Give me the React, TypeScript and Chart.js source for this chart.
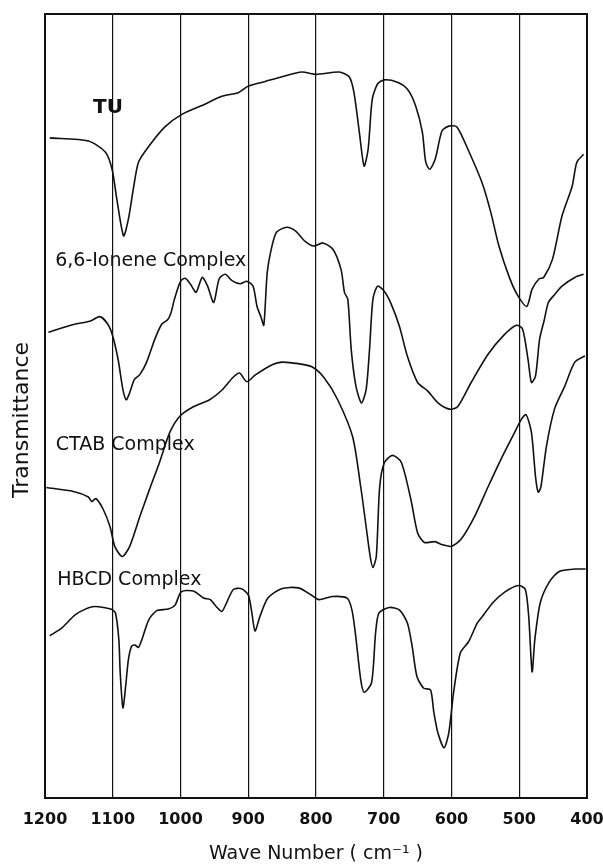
import React, { useEffect, useRef } from "react";
import { Chart, registerables } from "chart.js";

Chart.register(...registerables);

// X axis (wave number, cm-1) tick values
const waveTicks = [1200, 1100, 1000, 900, 800, 700, 600, 500, 400];

// TU spectrum
const tuWave = [1193, 1136, 1111, 1101, 1094, 1084, 1077, 1069, 1062, 1047, 1023, 998, 964, 939, 914, 900, 875, 850, 821, 800, 766, 751, 744, 736, 729, 723, 717, 709, 699, 680, 665, 653, 643, 638, 632, 624, 614, 604, 592, 574, 555, 542, 530, 515, 503, 489, 481, 471, 464, 451, 437, 422, 415, 405];
const tuValues = [84.2, 83.8, 82.4, 80.2, 76.4, 71.7, 73.8, 78.0, 81.1, 83.1, 85.6, 87.2, 88.5, 89.5, 90.0, 90.8, 91.4, 92.0, 92.6, 92.3, 92.6, 92.0, 90.0, 84.9, 80.6, 82.8, 89.1, 91.1, 91.6, 91.3, 90.4, 88.3, 84.9, 81.1, 80.2, 81.5, 85.1, 85.7, 85.6, 82.4, 78.5, 74.7, 70.4, 66.5, 64.2, 62.7, 64.9, 66.2, 66.4, 68.7, 74.2, 78.0, 81.1, 82.1];

// 6,6-Ionene Complex spectrum
const ioneneWave = [1195, 1158, 1134, 1119, 1107, 1100, 1092, 1085, 1080, 1075, 1068, 1060, 1050, 1038, 1028, 1019, 1014, 1009, 1000, 993, 985, 977, 968, 960, 951, 943, 934, 924, 912, 902, 893, 887, 881, 877, 872, 865, 858, 843, 830, 816, 803, 790, 775, 763, 758, 753, 748, 741, 733, 726, 721, 716, 709, 699, 689, 677, 665, 650, 635, 620, 603, 591, 571, 546, 522, 504, 495, 487, 482, 476, 470, 463, 457, 448, 437, 418, 405];
const ioneneValues = [59.4, 60.4, 60.8, 61.4, 60.4, 58.9, 55.9, 52.1, 50.8, 51.7, 53.4, 54.0, 55.6, 58.5, 60.4, 61.0, 61.9, 63.6, 65.9, 66.3, 65.5, 64.5, 66.4, 65.3, 63.2, 66.2, 66.8, 66.0, 65.6, 65.9, 65.3, 62.7, 61.3, 60.3, 67.0, 70.4, 72.2, 72.8, 72.3, 71.0, 70.4, 70.8, 70.0, 67.4, 64.5, 63.6, 57.2, 52.5, 50.4, 52.1, 57.2, 63.6, 65.3, 64.6, 63.0, 60.2, 56.3, 53.0, 51.9, 50.4, 49.6, 49.9, 53.0, 56.6, 59.1, 60.3, 59.8, 55.9, 53.0, 53.8, 58.5, 61.0, 63.2, 64.2, 65.3, 66.4, 66.8];

// CTAB Complex spectrum
const ctabWave = [1198, 1158, 1136, 1131, 1125, 1114, 1104, 1097, 1086, 1075, 1060, 1046, 1031, 1016, 1001, 981, 957, 938, 923, 913, 902, 889, 864, 850, 826, 806, 788, 768, 746, 734, 726, 720, 716, 711, 706, 699, 687, 674, 660, 650, 640, 625, 613, 600, 586, 566, 546, 527, 507, 497, 490, 482, 476, 472, 468, 460, 448, 433, 418, 403];
const ctabValues = [39.6, 39.1, 38.4, 37.8, 38.2, 36.8, 34.6, 32.1, 30.8, 32.1, 35.9, 39.3, 42.8, 46.6, 48.7, 49.9, 50.8, 52.1, 53.6, 54.2, 53.1, 54.0, 55.3, 55.6, 55.4, 55.0, 53.6, 50.8, 46.1, 39.7, 34.6, 30.8, 29.4, 30.8, 39.7, 42.8, 43.7, 42.8, 38.1, 33.8, 32.6, 32.7, 32.3, 32.1, 33.0, 35.9, 39.7, 43.2, 46.6, 48.3, 48.9, 46.6, 41.0, 39.0, 39.7, 44.8, 49.6, 52.5, 55.6, 56.4];

// HBCD Complex spectrum
const hbcdWave = [1193, 1175, 1155, 1130, 1103, 1096, 1091, 1089, 1085, 1081, 1077, 1072, 1067, 1062, 1057, 1047, 1035, 1018, 1008, 999, 981, 966, 956, 947, 939, 932, 922, 910, 900, 895, 890, 883, 871, 851, 826, 807, 796, 776, 754, 747, 742, 734, 729, 718, 712, 707, 692, 677, 665, 658, 651, 641, 631, 626, 620, 611, 604, 597, 587, 575, 562, 555, 538, 521, 501, 491, 486, 481, 477, 469, 456, 441, 417, 402];
const hbcdValues = [20.7, 21.7, 23.4, 24.4, 24.1, 23.6, 20.2, 16.0, 11.5, 14.2, 17.6, 19.4, 19.5, 19.2, 20.2, 22.7, 23.9, 24.1, 24.6, 26.3, 26.4, 25.5, 25.3, 24.4, 23.8, 24.9, 26.6, 26.7, 25.9, 23.8, 21.3, 23.1, 25.5, 26.7, 26.8, 25.9, 25.3, 25.7, 25.5, 24.0, 21.1, 15.1, 13.5, 14.7, 21.1, 23.6, 24.3, 24.0, 22.3, 19.3, 15.5, 14.0, 13.8, 10.9, 8.3, 6.4, 8.3, 13.4, 18.5, 19.9, 22.3, 23.1, 25.0, 26.3, 27.1, 26.6, 23.1, 16.1, 20.2, 24.9, 27.5, 28.9, 29.2, 29.2];

// Curve labels (text, anchor wave number, anchor value)
const labelTexts = ["TU", "6,6-Ionene Complex", "CTAB Complex", "HBCD Complex"];
const labelWaves = [1129, 1185, 1184, 1182];
const labelValues = [87.4, 67.8, 44.4, 27.2];
const labelBold = [true, false, false, false];

const INK = "#111111";

export default function App() {
  const canvasRef = useRef<HTMLCanvasElement | null>(null);

  useEffect(() => {
    const canvas = canvasRef.current;
    if (!canvas) return;

    const toPoints = (w: number[], v: number[]) => w.map((x, i) => ({ x, y: v[i] }));

    const framePlugin = {
      id: "frameAndLabels",
      beforeDraw(chart: any) {
        const ctx = chart.ctx;
        ctx.save();
        ctx.fillStyle = "#ffffff";
        ctx.fillRect(0, 0, chart.width, chart.height);
        ctx.restore();
      },
      afterDatasetsDraw(chart: any) {
        const { ctx, chartArea, scales } = chart;
        ctx.save();
        ctx.strokeStyle = INK;
        ctx.lineWidth = 2;
        ctx.strokeRect(chartArea.left, chartArea.top, chartArea.right - chartArea.left, chartArea.bottom - chartArea.top);
        ctx.fillStyle = INK;
        ctx.textAlign = "left";
        ctx.textBaseline = "alphabetic";
        labelTexts.forEach((t, i) => {
          ctx.font = labelBold[i] ? "bold 20px 'DejaVu Sans'" : "19px 'DejaVu Sans'";
          const x = scales.x.getPixelForValue(labelWaves[i]);
          const y = scales.y.getPixelForValue(labelValues[i]);
          ctx.fillText(t, x, y);
        });
        ctx.restore();
      },
    };

    const mk = (data: { x: number; y: number }[]) => ({
      data,
      borderColor: INK,
      borderWidth: 1.6,
      pointRadius: 0,
      tension: 0.25,
      fill: false,
    });

    const chart = new Chart(canvas, {
      type: "line",
      data: {
        datasets: [
          mk(toPoints(tuWave, tuValues)),
          mk(toPoints(ioneneWave, ioneneValues)),
          mk(toPoints(ctabWave, ctabValues)),
          mk(toPoints(hbcdWave, hbcdValues)),
        ] as any,
      },
      options: {
        responsive: false,
        animation: false,
        devicePixelRatio: 1,
        layout: { padding: { top: 14, right: 16, left: 0, bottom: 0 } },
        plugins: { legend: { display: false }, tooltip: { enabled: false } },
        scales: {
          x: {
            type: "linear",
            reverse: true,
            min: 400,
            max: 1200,
            afterBuildTicks: (s: any) => {
              s.ticks = waveTicks.map((v) => ({ value: v }));
            },
            ticks: {
              color: INK,
              font: { family: "DejaVu Sans", size: 16, weight: "bold" },
              padding: 12,
              maxRotation: 0,
              autoSkip: false,
              callback: (v: any) => String(v),
            },
            grid: { color: INK, lineWidth: 1.2, drawTicks: false },
            border: { display: true, color: INK, width: 2 },
            title: {
              display: true,
              text: "Wave Number ( cm⁻¹ )",
              color: INK,
              font: { family: "DejaVu Sans", size: 19 },
              padding: { top: 0, bottom: 0 },
            },
            afterFit: (s: any) => {
              s.height = 67;
              s.paddingLeft = 0;
              s.paddingRight = 0;
            },
          },
          y: {
            min: 0,
            max: 100,
            ticks: { display: false },
            grid: { display: false, drawTicks: false },
            border: { display: true, color: INK, width: 2 },
            title: {
              display: true,
              text: "Transmittance    ",
              color: INK,
              font: { family: "DejaVu Sans", size: 22 },
              padding: { top: 9, bottom: 0 },
            },
            afterFit: (s: any) => {
              s.width = 45;
              s.paddingTop = 0;
              s.paddingBottom = 0;
            },
          },
        },
      } as any,
      plugins: [framePlugin],
    });

    return () => {
      chart.destroy();
    };
  }, []);

  return (
    <div style={{ position: "absolute", left: 0, top: 0, width: 603, height: 865, background: "#ffffff" }}>
      <canvas ref={canvasRef} width={603} height={865} style={{ display: "block", width: 603, height: 865 }} />
    </div>
  );
}
